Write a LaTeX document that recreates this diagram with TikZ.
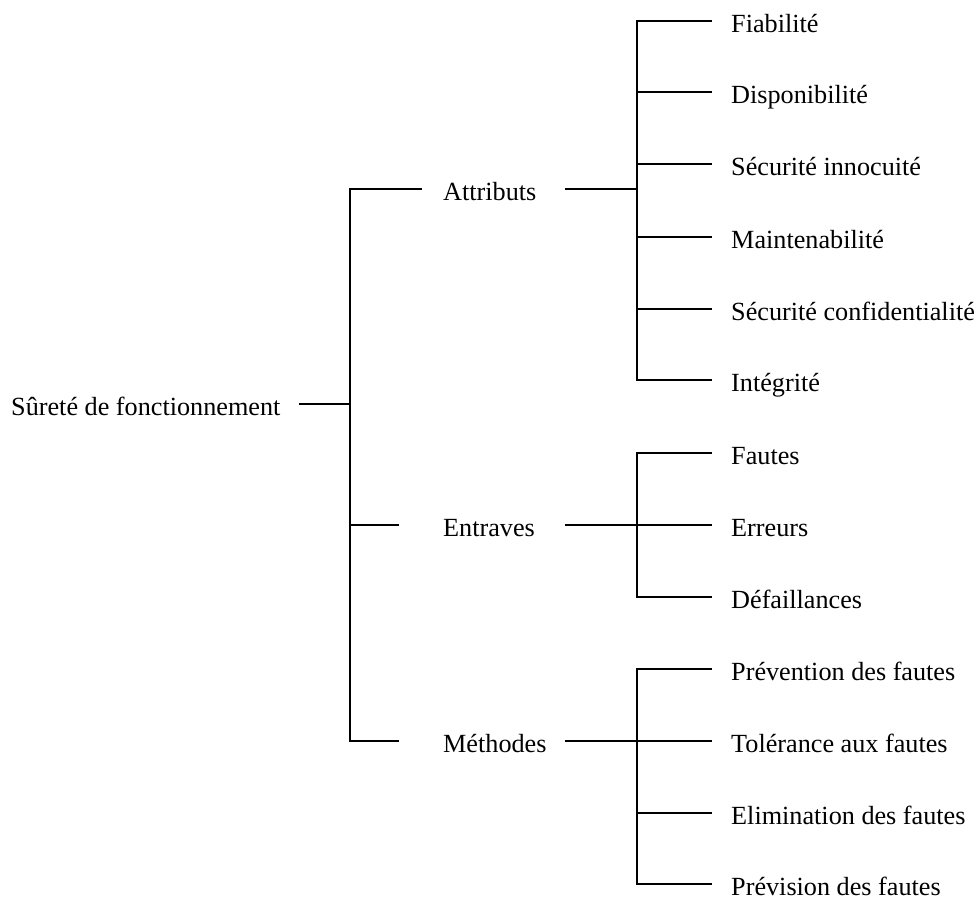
\documentclass[tikz,border=0pt]{standalone}
\usepackage{fontspec}
\setmainfont{Liberation Serif}
\begin{document}
\begin{tikzpicture}[x=1pt,y=-1pt,
  lbl/.style={anchor=base west,inner sep=0pt,font=\fontsize{26.2}{30}\selectfont},
  conn/.style={line width=1.6pt,line cap=rect}]
\useasboundingbox (0,0) rectangle (980,898);
% text nodes
\node[lbl] (root) at (11,415) {Sûreté de fonctionnement};
\node[lbl] (att) at (443,200) {Attributs};
\node[lbl] (ent) at (443,536) {Entraves};
\node[lbl] (met) at (443,752) {Méthodes};
\node[lbl] (a1) at (731,32) {Fiabilité};
\node[lbl] (a2) at (731,103) {Disponibilité};
\node[lbl] (a3) at (731,175) {Sécurité innocuité};
\node[lbl] (a4) at (731,248) {Maintenabilité};
\node[lbl] (a5) at (731,320) {Sécurité confidentialité};
\node[lbl] (a6) at (731,391) {Intégrité};
\node[lbl] (e1) at (731,464) {Fautes};
\node[lbl] (e2) at (731,536) {Erreurs};
\node[lbl] (e3) at (731,608) {Défaillances};
\node[lbl] (m1) at (731,680) {Prévention des fautes};
\node[lbl] (m2) at (731,752) {Tolérance aux fautes};
\node[lbl] (m3) at (731,824) {Elimination des fautes};
\node[lbl] (m4) at (731,895) {Prévision des fautes};
% junction coordinates
\coordinate (r0) at (300,404);
\coordinate (j0) at (350,404);
\coordinate (j0a) at (350,189);
\coordinate (j0e) at (350,525);
\coordinate (j0m) at (350,741);
\coordinate (ta) at (421,189);
\coordinate (te) at (398,525);
\coordinate (tm) at (398,741);
\coordinate (sa) at (566,189);
\coordinate (se) at (566,525);
\coordinate (sm) at (566,741);
\coordinate (ja) at (637,189);
\coordinate (je) at (637,525);
\coordinate (jm) at (637,741);
\foreach \n/\y in {a1/21,a2/92,a3/164,a4/237,a5/309,a6/380,e1/453,e2/525,e3/597,m1/669,m2/741,m3/813,m4/884}{
  \coordinate (\n l) at (637,\y);
  \coordinate (\n r) at (711,\y);
}
% connectors
\draw[conn] (r0) -- (j0);
\draw[conn] (j0a) -- (j0m);
\draw[conn] (j0a) -- (ta);
\draw[conn] (j0e) -- (te);
\draw[conn] (j0m) -- (tm);
\draw[conn] (sa) -- (ja);
\draw[conn] (se) -- (je);
\draw[conn] (sm) -- (jm);
\draw[conn] (a1l) -- (a6l);
\draw[conn] (e1l) -- (e3l);
\draw[conn] (m1l) -- (m4l);
\foreach \n in {a1,a2,a3,a4,a5,a6,e1,e2,e3,m1,m2,m3,m4}{
  \draw[conn] (\n l) -- (\n r);
}
\end{tikzpicture}
\end{document}
